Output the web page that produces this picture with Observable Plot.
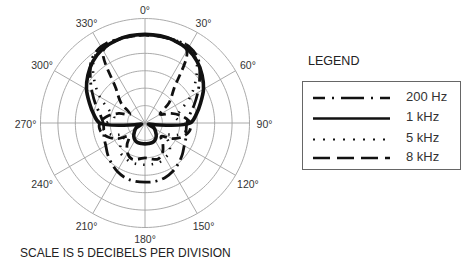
<!DOCTYPE html>
<html><head><meta charset="utf-8">
<script src="https://cdn.jsdelivr.net/npm/d3@7"></script>
<script src="https://cdn.jsdelivr.net/npm/@observablehq/plot@0.6"></script>
<style>
body{margin:0;background:#fff;font-family:"Liberation Sans",Arial,Helvetica,sans-serif;color:#222;}
#wrap{position:relative;width:462px;height:268px;overflow:hidden;}
#chart{position:absolute;left:0;top:0;}
#caption{position:absolute;left:20px;top:246px;font-size:12px;white-space:nowrap;}
#legtitle{position:absolute;left:308px;top:54px;font-size:12.5px;}
#legbox{position:absolute;left:302px;top:81px;width:157px;height:87px;border:1px solid #666;}
</style></head><body>
<div id="wrap">
  <div id="chart"></div>
  <div id="legtitle">LEGEND</div>
  <div id="legbox"><svg id="legsvg" width="157" height="87"></svg></div>
  <div id="caption">SCALE IS 5 DECIBELS PER DIVISION</div>
</div>
<script>
// angles in degrees (0 = front / top, clockwise)
const angles = [0,10,20,30,40,50,60,70,80,90,100,110,120,130,140,150,160,170,180,190,200,210,220,230,240,250,260,270,280,290,300,310,320,330,340,350];
// response in dB (0 dB on second ring, rings every 5 dB)
const hz200 = [0.3,0.3,0.3,0.3,-1.2,-4.5,-7.5,-10,-12,-13,-13,-12.5,-12,-11,-10,-9,-8.3,-8,-8,-8,-8.3,-9,-10,-11,-12,-12.5,-13,-13,-12,-10,-7.5,-4.5,-1.2,0.3,0.3,0.3];
const khz1  = [0.5,0.4,0.1,-0.5,-1.8,-3.6,-5.6,-8,-10,-12,-22,-24,-22,-21,-20,-19.3,-19,-19,-19,-19,-19,-19.3,-20,-21,-22,-24,-22,-12,-10,-8,-5.6,-3.6,-1.8,-0.5,0.1,0.4];
const khz5  = [0.3,0.3,0.3,0.3,-2,-6,-10,-14,-16,-14,-13,-15,-18,-16,-14,-13.5,-13,-13,-13,-13,-13,-13.5,-14,-16,-18,-15,-13,-14,-16,-14,-10,-6,-2,0.3,0.3,0.3];
const khz8  = [0.2,0.2,0,-1,-12,-16,-20,-17,-14,-12,-12,-13.5,-16,-19,-17,-15,-14,-14.5,-15,-14.5,-14,-15,-17,-19,-16,-13.5,-12,-12,-14,-17,-20,-16,-12,-1,0,0.2];
const seriesNames = ["200 Hz","1 kHz","5 kHz","8 kHz"];
const labelAngles = [0,30,60,90,120,150,180,210,240,270,300,330];
const ringLevels = [5,0,-5,-10,-15,-20];
const dbMin = -25;   // centre of the plot
const dbMax = 5;     // outer ring

const styles = {
  "200 Hz": {dash: "15 5 2 5", width: 2.8, cap: "butt"},
  "1 kHz":  {dash: null, width: 3.6, cap: "round"},
  "5 kHz":  {dash: "1.5 7", width: 2.6, cap: "butt"},
  "8 kHz":  {dash: "9 5", width: 2.8, cap: "butt"}
};
const legendDash = {"200 Hz": "23 7 2 7", "1 kHz": null, "5 kHz": "2 8", "8 kHz": "17 7"};

const rad = a => a * Math.PI / 180;
const R = d => d - dbMin;
const seriesVals = [hz200, khz1, khz5, khz8];
const rows = [];
seriesNames.forEach((s, i) => angles.forEach((a, j) => rows.push({series: s, angle: a, db: seriesVals[i][j]})));

const ringPts = [];
ringLevels.forEach(l => d3.range(0, 360, 2).forEach(a => ringPts.push({ring: l, angle: a})));

const lineMarks = seriesNames.map(s => Plot.line(rows.filter(r => r.series === s), {
  x: d => R(d.db) * Math.sin(rad(d.angle)),
  y: d => R(d.db) * Math.cos(rad(d.angle)),
  curve: "catmull-rom-closed",
  stroke: "#111",
  strokeWidth: styles[s].width,
  strokeDasharray: styles[s].dash,
  strokeLinecap: styles[s].cap,
  strokeLinejoin: "round"
}));

const outer = dbMax - dbMin;
const pxPerUnit = 104.5 / outer;
const labelR = a => (114.5 + 5 * Math.abs(Math.sin(rad(a)))) / pxPerUnit;
const chart = Plot.plot({
  width: 290, height: 268,
  marginLeft: 40, marginRight: 41, marginTop: 18, marginBottom: 41,
  x: {domain: [-outer, outer], axis: null},
  y: {domain: [-outer, outer], axis: null},
  style: {fontFamily: "'Liberation Sans', Arial, sans-serif", overflow: "visible", background: "white"},
  marks: [
    Plot.line(ringPts, {
      x: d => R(d.ring) * Math.sin(rad(d.angle)),
      y: d => R(d.ring) * Math.cos(rad(d.angle)),
      z: "ring", curve: "linear-closed", stroke: "#a0a0a0", strokeWidth: 0.9
    }),
    Plot.link(labelAngles, {
      x1: 0, y1: 0,
      x2: a => outer * Math.sin(rad(a)),
      y2: a => outer * Math.cos(rad(a)),
      stroke: "#a0a0a0", strokeWidth: 0.9
    }),
    Plot.text(labelAngles, {
      x: a => labelR(a) * Math.sin(rad(a)),
      y: a => labelR(a) * Math.cos(rad(a)),
      text: a => a + "°",
      dy: 2, fontSize: 10.5, fill: "#333"
    }),
    ...lineMarks
  ]
});
document.getElementById("chart").appendChild(chart);

// legend samples
const leg = d3.select("#legsvg");
const rowY = [16, 36.5, 57.5, 76];
seriesNames.forEach((s, i) => {
  leg.append("line").attr("x1", 10).attr("x2", 87).attr("y1", rowY[i]).attr("y2", rowY[i])
    .attr("stroke", "#111").attr("stroke-width", s === "5 kHz" ? 2 : 2.6)
    .attr("stroke-dasharray", legendDash[s]).attr("stroke-dashoffset", s === "200 Hz" ? 11 : 0);
  leg.append("text").attr("x", 103).attr("y", rowY[i] - 2).attr("dy", "0.35em")
    .attr("font-size", 13).attr("fill", "#333").text(s);
});
</script>
</body></html>
